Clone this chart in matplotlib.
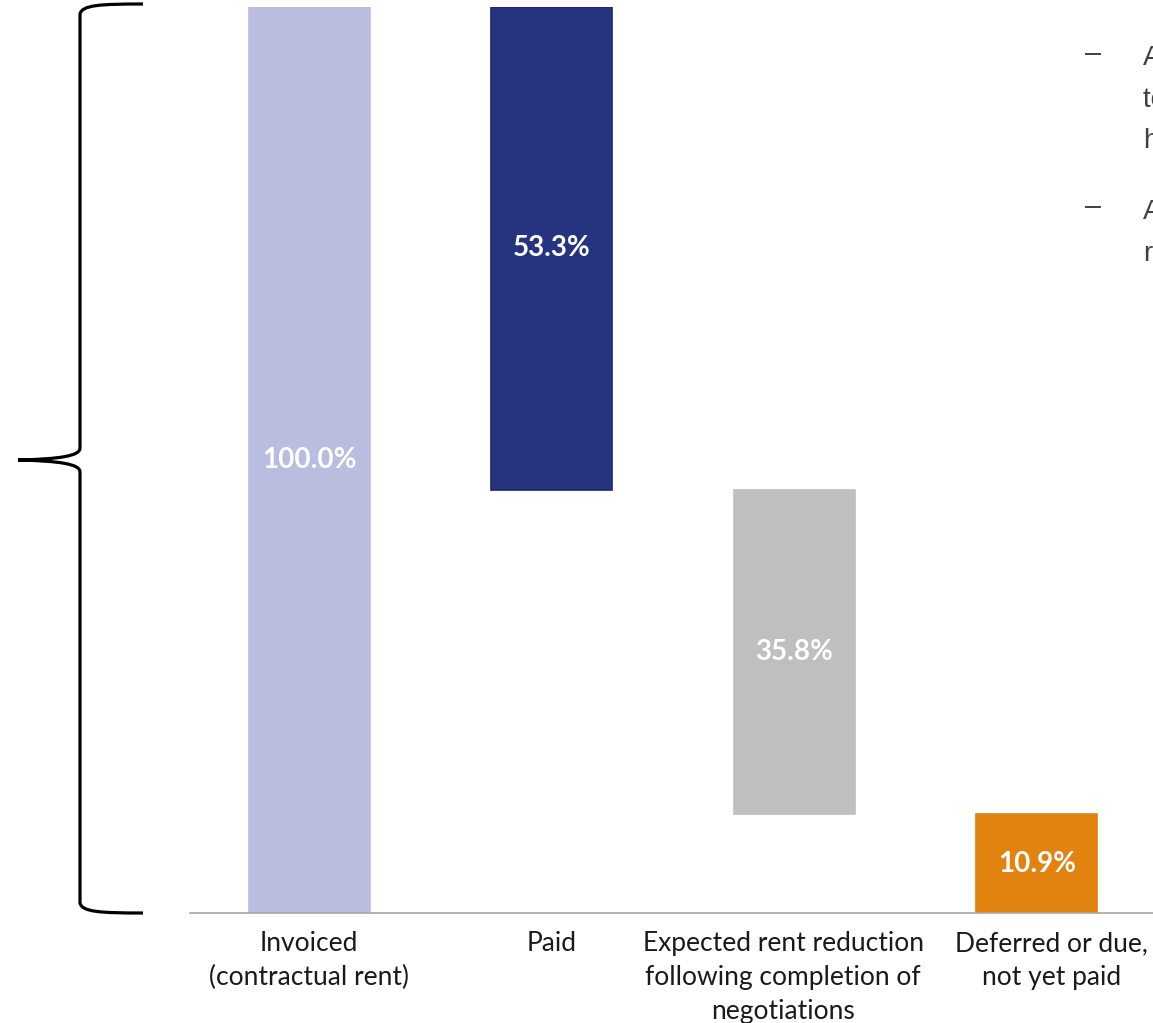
import matplotlib
matplotlib.use("Agg")
import matplotlib.pyplot as plt
import matplotlib.transforms as mtransforms
from matplotlib.path import Path
from matplotlib.patches import PathPatch
from matplotlib.lines import Line2D

categories = ["Invoiced\n(contractual rent)", "Paid",
              "Expected rent reduction\nfollowing completion of\nnegotiations",
              "Deferred or due,\nnot yet paid"]
values = [100.0, 53.3, 35.8, 10.9]
labels = ["100.0%", "53.3%", "35.8%", "10.9%"]
colors = ["#B9BDDF", "#263380", "#BFBFBF", "#E3830F"]
edges = ["#B9BDDF", "#1E2868", "#BFBFBF", "#E3830F"]

# side notes, cut off by the slide edge in the original
notes = ["Agreements reached\ntenants in most\nhotels",
         "All remaining\nrent"]

W, H = 1153, 1023
fig = plt.figure(figsize=(W / 100, H / 100), dpi=100)

# axes placed in pixel terms
x0, x1 = 188, 1158
y_top, y_base = 7, 913
ax = fig.add_axes([x0 / W, 1 - y_base / H, (x1 - x0) / W, (y_base - y_top) / H])

# waterfall: total, then the pieces stepping down
bottoms = [0.0]
level = values[0]
for v in values[1:-1]:
    level -= v
    bottoms.append(level)
bottoms.append(0.0)

xs = range(len(values))
ax.bar(xs, values, bottom=bottoms, width=0.5, color=colors,
       edgecolor=edges, linewidth=1.2)
for x, v, b, lab in zip(xs, values, bottoms, labels):
    ax.text(x, b + v / 2, lab, ha="center", va="center", color="white",
            fontsize=20, fontweight="bold", family="Lato")

ax.set_xlim(-0.5, 3.5)
ax.set_ylim(0, 100)
ax.set_xticks(list(xs))
ax.set_xticklabels(categories, fontsize=19, family="Lato", color="#1a1a1a",
                   linespacing=1.45)
ax.tick_params(axis="x", length=0, pad=13)
# the slide's text boxes are not quite centred under the last two bars
for tl, dx in zip(ax.get_xticklabels(), [0, 0, -11, 15]):
    tl.set_transform(tl.get_transform() +
                     mtransforms.ScaledTranslation(dx / 100, 0, fig.dpi_scale_trans))
ax.set_yticks([])
for s in ["top", "right", "left"]:
    ax.spines[s].set_visible(False)
ax.spines["bottom"].set_color("#A6A6A6")
ax.spines["bottom"].set_linewidth(1.2)
ax.spines["bottom"].set_bounds(-0.5 + (190 - x0) / 242.5, 3.5)


# curly brace on the left, drawn in pixel coords (y downwards)
def px(x, y):
    return (x / W, 1 - y / H)


verts = [px(143, 4), px(100, 4), px(82, 5), px(80, 14),
         px(80, 448),
         px(80, 456), px(60, 459), px(18, 460),
         px(60, 461), px(80, 464), px(80, 472),
         px(80, 903),
         px(82, 912), px(100, 913), px(143, 913)]
codes = [Path.MOVETO, Path.CURVE4, Path.CURVE4, Path.CURVE4,
         Path.LINETO,
         Path.CURVE4, Path.CURVE4, Path.CURVE4,
         Path.CURVE4, Path.CURVE4, Path.CURVE4,
         Path.LINETO,
         Path.CURVE4, Path.CURVE4, Path.CURVE4]
brace = PathPatch(Path(verts, codes), transform=fig.transFigure,
                  facecolor="none", edgecolor="black", linewidth=2.3)
fig.patches.append(brace)

# bullet notes on the right
for note, ytop, ydash in zip(notes, [45, 199], [54, 207]):
    fig.lines.append(Line2D([1086 / W, 1100 / W], [1 - ydash / H] * 2,
                            transform=fig.transFigure, color="#404040",
                            linewidth=1.4))
    fig.text(1143 / W, 1 - ytop / H, note, ha="left", va="top",
             fontsize=20, color="#404040", family="Liberation Sans",
             linespacing=1.78)

fig.savefig("out.png", dpi=100)
